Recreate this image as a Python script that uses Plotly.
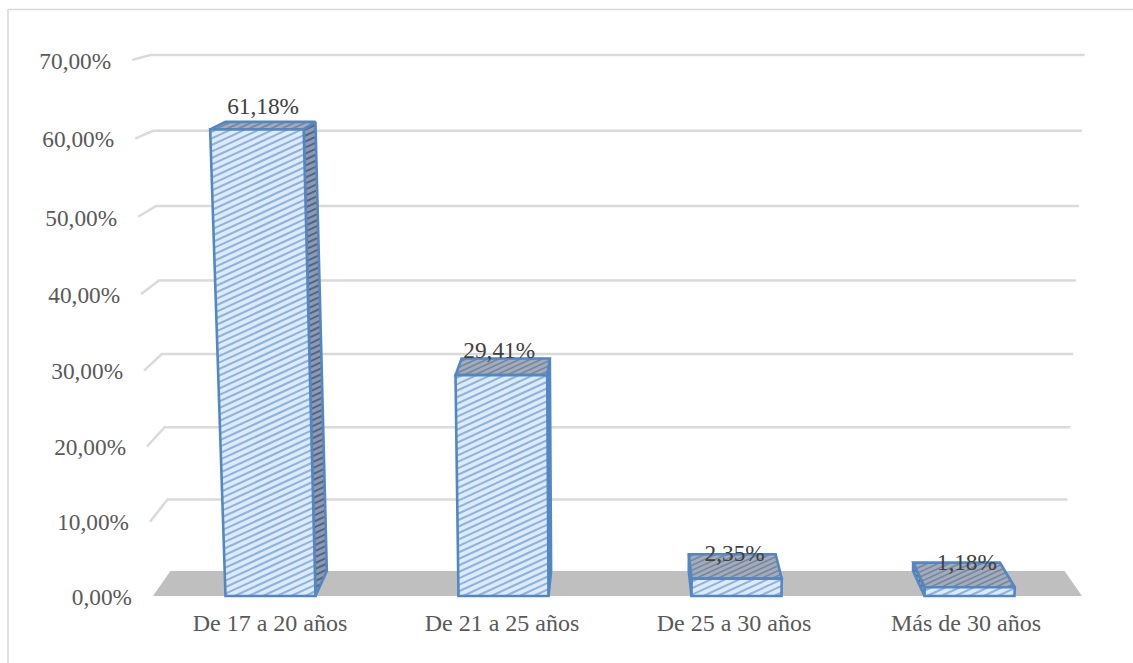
import plotly.graph_objects as go

# Data
categories = ["De 17 a 20 años", "De 21 a 25 años", "De 25 a 30 años", "Más de 30 años"]
values = [61.18, 29.41, 2.35, 1.18]
value_labels = ["61,18%", "29,41%", "2,35%", "1,18%"]
ticks = [0, 10, 20, 30, 40, 50, 60, 70]
tick_labels = ["0,00%", "10,00%", "20,00%", "30,00%", "40,00%", "50,00%", "60,00%", "70,00%"]

FONT = "Liberation Serif"
BLUE = "#5486C4"


# The chart is a perspective view, so every point goes through this projection.
# x_front is a pixel column on the floor's front edge, v a value, d the depth 0-1.
def project(x_front, v, d):
    spread = (1 + 0.00064 * v) * (1 - 0.0375 * d)
    height = v * (7.4 + 0.0037 * v) * (1 - 0.0375 * d)
    return 618 + (x_front - 618) * spread, 596 - 25 * d - height


def hatch(points, slope, gap):
    # Slanted hatch lines clipped to a convex polygon
    xs, ys = [], []
    cs = [y + slope * x for x, y in points]
    c = min(cs) + gap / 2
    while c < max(cs):
        hits = []
        for (x0, y0), (x1, y1) in zip(points, points[1:] + points[:1]):
            a0 = y0 + slope * x0 - c
            a1 = y1 + slope * x1 - c
            if a0 * a1 < 0:
                t = a0 / (a0 - a1)
                hits.append((x0 + (x1 - x0) * t, y0 + (y1 - y0) * t))
        if len(hits) == 2:
            xs += [hits[0][0], hits[1][0], None]
            ys += [hits[0][1], hits[1][1], None]
        c += gap
    return xs, ys


def face(fig, points, bg, line_color, gap, width):
    xs, ys = hatch(points, 0.46, gap)
    fig.add_trace(go.Scatter(x=[p[0] for p in points] + [points[0][0]],
                             y=[p[1] for p in points] + [points[0][1]],
                             mode="lines", fill="toself", fillcolor=bg,
                             line=dict(color=bg, width=0), hoverinfo="skip"))
    fig.add_trace(go.Scatter(x=xs, y=ys, mode="lines",
                             line=dict(color=line_color, width=width), hoverinfo="skip"))
    fig.add_trace(go.Scatter(x=[p[0] for p in points] + [points[0][0], points[1][0]],
                             y=[p[1] for p in points] + [points[0][1], points[1][1]],
                             mode="lines", line=dict(color=BLUE, width=2.6), hoverinfo="skip"))


fig = go.Figure()

# Outer border of the picture
fig.add_trace(go.Scatter(x=[8, 8, None, 8, 1133], y=[663, 9, None, 9.5, 9.5], mode="lines",
                         line=dict(color="#D9D9D9", width=1.6), hoverinfo="skip"))

# Floor
floor = [project(153, 0, 0), project(1082, 0, 0), project(1082, 0, 1), project(153, 0, 1)]
fig.add_trace(go.Scatter(x=[p[0] for p in floor], y=[p[1] for p in floor], mode="lines",
                         fill="toself", fillcolor="#BFBFBF", line=dict(width=0), hoverinfo="skip"))

# Gridlines on left wall and back wall
for t in ticks[1:]:
    p0, p1, p2 = project(153, t, 0), project(153, t, 1), project(1082, t, 1)
    fig.add_trace(go.Scatter(x=[p0[0], p1[0], p2[0]], y=[p0[1], p1[1], p2[1]], mode="lines",
                             line=dict(color="#DADADA", width=2.5), hoverinfo="skip"))

# Bars
half = 45
for i, v in enumerate(values):
    left = 154 + 233 * (i + 0.5) - half
    right = left + 2 * half
    fl, fr = project(left, v, 0), project(right, v, 0)
    bl, br = project(left, v, 1), project(right, v, 1)
    bottom_l, bottom_r = project(left, 0, 0), project(right, 0, 0)
    back_bl, back_br = project(left, 0, 1), project(right, 0, 1)
    if (left + right) / 2 < 618:
        side = [fr, br, back_br, bottom_r]
    else:
        side = [fl, bl, back_bl, bottom_l]
    face(fig, side, "#8C9BB3", "#566680", 6, 2)
    face(fig, [fl, fr, br, bl], "#A6ABB4", "#6F88AA", 5, 1.6)
    face(fig, [fl, fr, bottom_r, bottom_l], "#DEEBF7", "#8DB3E2", 6.5, 2.1)

# Value labels
category_x = [154 + 232 * (i + 0.5) for i in range(len(categories))]
fig.add_trace(go.Scatter(x=[x + 1 - 0.13 * v for x, v in zip(category_x, values)],
                         y=[project(0, v, 1)[1] + 1.5 - 0.25 * v for v in values],
                         text=value_labels, mode="text", textposition="middle center",
                         textfont=dict(family=FONT, size=23.3, color="#404040"), hoverinfo="skip"))

# Value axis labels
fig.add_trace(go.Scatter(x=[project(153, t, 0)[0] - 21 for t in ticks],
                         y=[project(153, t, 0)[1] + 3 for t in ticks],
                         text=tick_labels, mode="text", textposition="middle left",
                         textfont=dict(family=FONT, size=23.3, color="#595959"), hoverinfo="skip"))

# Category labels
fig.add_trace(go.Scatter(x=category_x, y=[625] * len(categories), text=categories, mode="text",
                         textposition="middle center",
                         textfont=dict(family=FONT, size=24, color="#595959"), hoverinfo="skip"))

fig.update_layout(width=1133, height=663, margin=dict(l=0, r=0, t=0, b=0),
                  paper_bgcolor="white", plot_bgcolor="white", showlegend=False,
                  xaxis=dict(range=[0, 1133], visible=False),
                  yaxis=dict(range=[663, 0], visible=False))

fig.write_html("out.html", post_script="document.body.style.margin = '0';",
               config=dict(displayModeBar=False))
